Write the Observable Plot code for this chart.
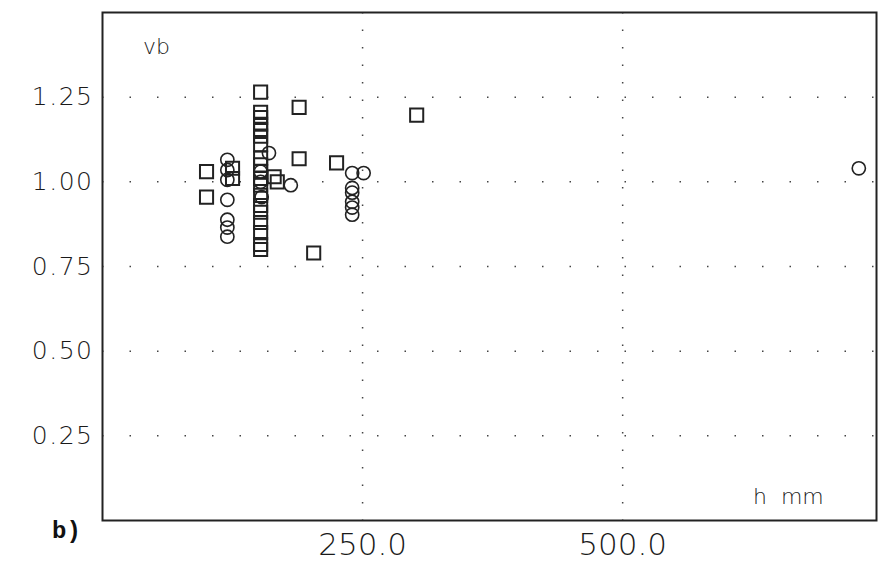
<!DOCTYPE html>
<html>
<head>
<meta charset="utf-8">
<script src="https://cdn.jsdelivr.net/npm/d3@7"></script>
<script src="https://cdn.jsdelivr.net/npm/@observablehq/plot@0.6"></script>
<style>
  html, body { margin: 0; padding: 0; background: #fff; }
  #chart { position: relative; width: 887px; height: 566px; }
  #chart svg { position: absolute; left: 0; top: 0; }
  #chart g[aria-label="y-axis tick label"] text { letter-spacing: 1.5px; }
</style>
</head>
<body>
<div id="chart"></div>
<script>
// Squares (h mm, vb)
const squareH = [100, 100, 125, 125, 152, 152, 152, 152, 152, 152, 152, 152, 152, 152, 152, 152, 152, 152, 152, 152, 152, 152, 152, 165, 168, 189, 189, 203, 225, 302];
const squareV = [1.03, 0.955, 1.04, 1.01, 1.265, 1.205, 1.19, 1.17, 1.155, 1.135, 1.11, 1.07, 1.05, 1.03, 1.01, 0.99, 0.96, 0.93, 0.91, 0.88, 0.85, 0.815, 0.80, 1.015, 1.0, 1.22, 1.068, 0.79, 1.056, 1.197];
// Circles (h mm, vb)
const circleH = [120, 120, 120, 120, 120, 120, 120, 152, 152, 153, 160, 181, 240, 251, 240, 240, 240, 240, 240, 727];
const circleV = [1.065, 1.035, 1.006, 0.947, 0.888, 0.865, 0.838, 1.03, 1.0, 0.955, 1.085, 0.99, 1.026, 1.026, 0.982, 0.968, 0.941, 0.924, 0.903, 1.04];
const xTicks = [250, 500];
const yTicks = [0.25, 0.5, 0.75, 1.0, 1.25];

const squares = squareH.map((h, i) => ({h, v: squareV[i]}));
const circles = circleH.map((h, i) => ({h, v: circleV[i]}));

const ink = "#222";
const txt = "#1a1a1a";
const plot = Plot.plot({
  width: 887,
  height: 566,
  marginLeft: 102,
  marginRight: 11,
  marginTop: 12,
  marginBottom: 46,
  style: {background: "#fff"},
  x: {domain: [0, 744], ticks: xTicks},
  y: {domain: [0, 1.5], ticks: yTicks},
  marks: [
    Plot.gridX(xTicks, {stroke: "#444", strokeOpacity: 1, strokeWidth: 1.5, strokeDasharray: "1.5,16"}),
    Plot.gridY(yTicks, {stroke: "#444", strokeOpacity: 1, strokeWidth: 1.5, strokeDasharray: "1.5,26"}),
    Plot.frame({stroke: ink, strokeWidth: 2}),
    Plot.axisY(yTicks, {tickSize: 0, tickPadding: 9, tickFormat: d3.format(".2f"), fontSize: 25, fontFamily: "DejaVu Sans", fill: txt, fontWeight: 300, label: null}),
    Plot.axisX(xTicks, {tickSize: 0, tickPadding: 12, tickFormat: d3.format(".1f"), fontSize: 31, fontFamily: "DejaVu Sans", fill: txt, fontWeight: 300, label: null}),
    Plot.dot(squares, {x: "h", y: "v", symbol: "square", r: 7.4, stroke: ink, strokeWidth: 2, fill: "none"}),
    Plot.dot(circles, {x: "h", y: "v", symbol: "circle", r: 6.6, stroke: ink, strokeWidth: 1.6, fill: "none"})
  ]
});
document.getElementById("chart").appendChild(plot);

// Annotation texts
const svg = d3.select(plot);
svg.append("text").attr("x", 143).attr("y", 54).attr("text-anchor", "start").attr("font-family", "DejaVu Sans").attr("font-weight", 300).attr("font-size", 22).attr("fill", txt).text("vb");
svg.append("text").attr("x", 753).attr("y", 504).attr("text-anchor", "start").attr("font-family", "DejaVu Sans").attr("font-weight", 300).attr("font-size", 22).attr("fill", txt).text("h  mm");
svg.append("text").attr("x", 52).attr("y", 538).attr("text-anchor", "start").attr("font-family", "Liberation Mono").attr("font-weight", "bold").attr("font-size", 24).attr("fill", "#111").text("b)");
</script>
</body>
</html>
